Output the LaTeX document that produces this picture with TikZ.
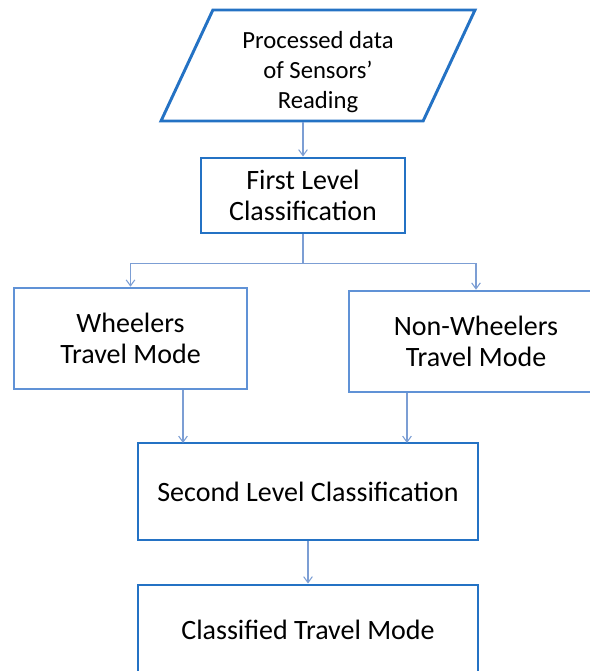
\documentclass[tikz,border=0pt]{standalone}
\usepackage{fontspec}
\setmainfont{Carlito}
\usepackage{xcolor}
\usetikzlibrary{shapes.geometric}
\usetikzlibrary{arrows.meta}
\definecolor{boxblue}{RGB}{36,114,196}
\definecolor{lightblue}{RGB}{96,146,214}
\definecolor{arrowblue}{RGB}{124,158,212}
\tikzset{stepbox/.style={draw=boxblue, line width=2.2pt, align=center,
   font=\fontsize{21}{23}\selectfont, inner sep=0pt},
 modebox/.style={stepbox, draw=lightblue, line width=1.9pt},
 inbox/.style={stepbox, trapezium, trapezium left angle=61,
   trapezium right angle=119, trapezium stretches body,
   font=\fontsize{18.5}{22.5}\selectfont},
 arr/.style={draw=arrowblue, line width=0.8pt, -{Straight Barb[length=4.5pt, width=6.5pt]}},
 }

\begin{document}
\begin{tikzpicture}[x=0.75pt, y=-0.75pt]
        \useasboundingbox (0,0) rectangle (589,671);

        \node[inbox, minimum width=235.5pt, minimum height=83.25pt] (input) at (318,65.5)
            {\rule{0pt}{22pt}Processed data\\of Sensors’\\Reading};
        \node[stepbox, minimum width=153pt, minimum height=56.25pt] (first) at (303,195.5)
            {First Level\\Classification};
        \node[modebox, minimum width=174.75pt, minimum height=75.75pt] (wheel) at (130.5,338.5)
            {Wheelers\\Travel Mode};
        \node[modebox, minimum width=190.5pt, minimum height=75.75pt] (nonwheel) at (476,341.5)
            {Non-Wheelers\\Travel Mode};
        \node[stepbox, minimum width=255pt, minimum height=72.75pt] (second) at (308,491.5)
            {Second Level Classification};
        \node[stepbox, minimum width=255pt, minimum height=67.5pt] (third) at (308,630)
            {Classified Travel Mode};

        \coordinate (inL) at (183,443);
        \coordinate (inR) at (407,443);

        \draw[arr] (first.north |- input.south) -- (first.north);
        \draw[arrowblue, line width=0.8pt] (first.south) -- ++(0,29) coordinate (split);
        \draw[arr] (split) -| (wheel.north);
        \draw[arr] (split) -| (nonwheel.north);
        \draw[arr] (wheel.south -| inL) -- (inL);
        \draw[arr] (nonwheel.south -| inR) -- (inR);
        \draw[arr] (second.south) -- (third.north);
    \end{tikzpicture}
\end{document}
